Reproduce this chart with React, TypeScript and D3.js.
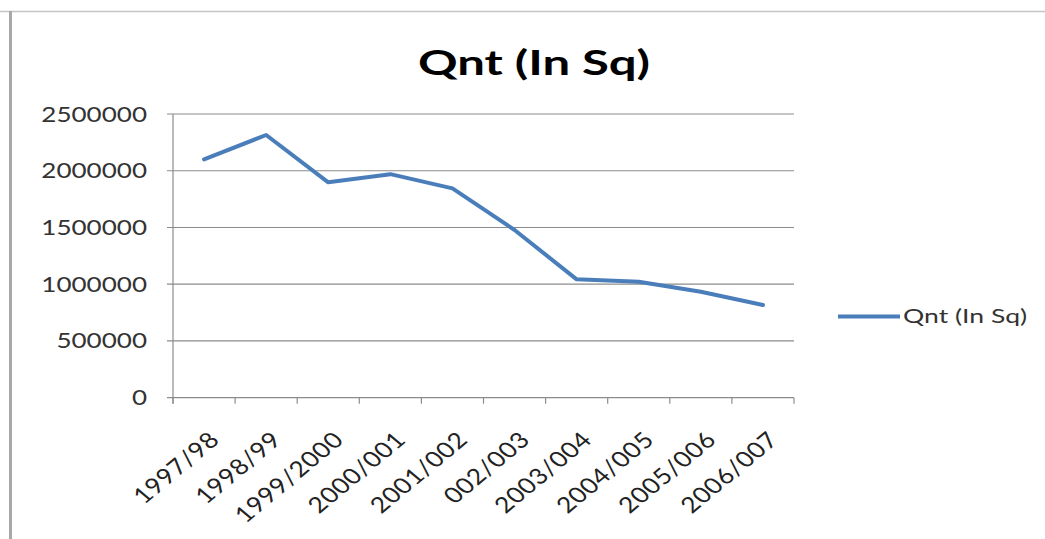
import React from "react";
import * as d3 from "d3";

const categories = [
  "1997/98",
  "1998/99",
  "1999/2000",
  "2000/001",
  "2001/002",
  "002/003",
  "2003/004",
  "2004/005",
  "2005/006",
  "2006/007",
];
const quantities = [2100000, 2315000, 1898000, 1970000, 1845000, 1478000, 1043000, 1022000, 934000, 817000];
const yTicks = [0, 500000, 1000000, 1500000, 2000000, 2500000];
const seriesName = "Qnt (In Sq)";
const chartTitle = "Qnt (In Sq)";

const W = 1045;
const H = 539;
const plot = { left: 173, right: 794, top: 114, bottom: 397.7 };
const lineColor = "#4A7EBB";
const font = "Lato, 'Open Sans', sans-serif";

export default function App() {
  const x = d3.scaleBand<string>().domain(categories).range([plot.left, plot.right]);
  const y = d3.scaleLinear().domain([0, 2500000]).range([plot.bottom, plot.top]);
  const line = d3
    .line<number>()
    .x((_, i) => (x(categories[i]) as number) + x.bandwidth() / 2)
    .y((d) => y(d));

  const tickXs = categories.map((c) => x(c) as number).concat([plot.right]);

  return (
    <svg
      width={W}
      height={H}
      style={{ position: "absolute", left: 0, top: 0, background: "#fff" }}
    >
      <rect x={0} y={0} width={W} height={H} fill="#fff" />
      {/* frame */}
      <line x1={0} x2={W} y1={11.5} y2={11.5} stroke="#c4c4c4" strokeWidth={1.5} />
      <line x1={10.5} x2={10.5} y1={11} y2={H} stroke="#a8a8a8" strokeWidth={3} />

      {/* title */}
      <text
        x={534}
        y={75}
        textAnchor="middle"
        fontFamily={font}
        fontWeight="bold"
        fontSize={35}
        fill="#000"
        textLength={232}
        lengthAdjust="spacingAndGlyphs"
      >
        {chartTitle}
      </text>

      {/* gridlines */}
      {yTicks.map((t) => (
        <line
          key={"g" + t}
          x1={plot.left - 6}
          x2={plot.right}
          y1={y(t)}
          y2={y(t)}
          stroke="#8c8c8c"
          strokeWidth={1.2}
        />
      ))}
      {/* y axis */}
      <line x1={plot.left} x2={plot.left} y1={plot.top} y2={plot.bottom + 6} stroke="#8c8c8c" strokeWidth={1.2} />
      {yTicks.map((t) => (
        <text
          key={"yl" + t}
          transform={`translate(147,${y(t) + 7.5}) scale(1.24,1)`}
          textAnchor="end"
          fontFamily={font}
          fontSize={21}
          fill="#333"
        >
          {t}
        </text>
      ))}

      {/* x axis ticks */}
      {tickXs.map((tx, i) => (
        <line key={"xt" + i} x1={tx} x2={tx} y1={plot.bottom} y2={plot.bottom + 6} stroke="#8c8c8c" strokeWidth={1.2} />
      ))}
      {categories.map((c) => {
        const cx = (x(c) as number) + x.bandwidth() / 2 + 17;
        const cy = 441;
        return (
          <text
            key={"xl" + c}
            transform={`translate(${cx},${cy}) scale(1.2,1) rotate(-45)`}
            textAnchor="end"
            fontFamily={font}
            fontSize={22}
            fill="#222"
            letterSpacing={0.6}
          >
            {c}
          </text>
        );
      })}

      {/* series */}
      <path
        d={line(quantities) as string}
        fill="none"
        stroke={lineColor}
        strokeWidth={4}
        strokeLinejoin="round"
        strokeLinecap="round"
      />

      {/* legend */}
      <line x1={838} x2={900} y1={316.5} y2={316.5} stroke={lineColor} strokeWidth={4} />
      <text
        x={903}
        y={323}
        fontFamily={font}
        fontSize={19}
        fill="#333"
        textLength={124}
        lengthAdjust="spacingAndGlyphs"
      >
        {seriesName}
      </text>
    </svg>
  );
}
